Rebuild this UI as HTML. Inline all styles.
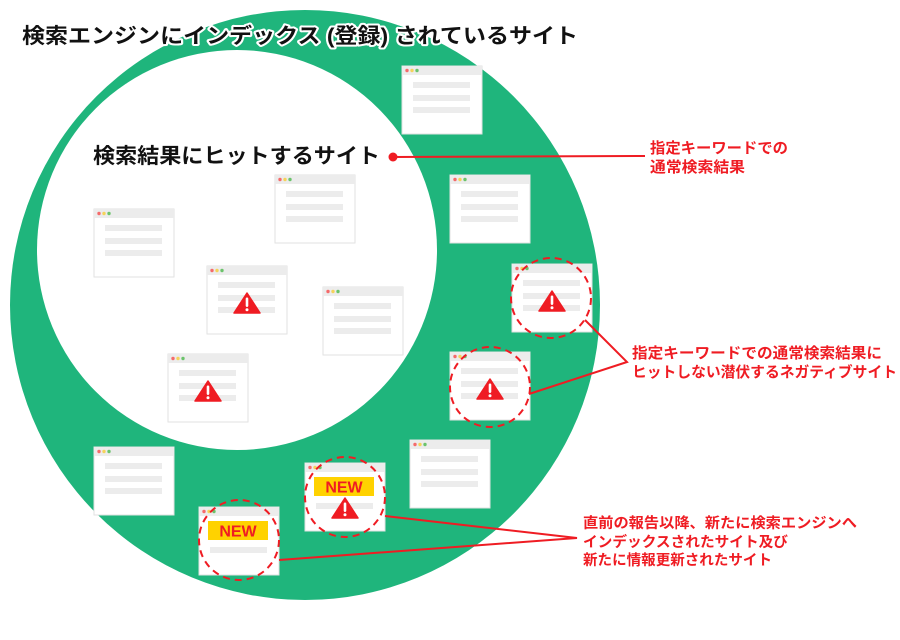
<!DOCTYPE html>
<html><head><meta charset="utf-8"><style>
html,body{margin:0;padding:0;background:#fff;}
svg{display:block;}
text{font-family:"Liberation Sans","Noto Sans CJK JP",sans-serif;font-weight:bold;}
</style></head><body>
<svg width="900" height="640" viewBox="0 0 900 640" xmlns="http://www.w3.org/2000/svg">
<defs>
<g id="win">
  <rect x="0" y="0" width="80" height="68" fill="#fff" stroke="#e2e2e2" stroke-width="1"/>
  <rect x="0" y="0" width="80" height="9" fill="#ececec"/>
  <circle cx="5" cy="4.5" r="1.7" fill="#f56b6b"/>
  <circle cx="10" cy="4.5" r="1.7" fill="#f5d35b"/>
  <circle cx="15" cy="4.5" r="1.7" fill="#6cc36c"/>
  <rect x="11" y="16" width="57" height="6" fill="#ececec"/>
  <rect x="11" y="29" width="57" height="6" fill="#ececec"/>
  <rect x="11" y="41" width="57" height="6" fill="#ececec"/>
</g>
<g id="warn">
  <path d="M40 27 L53 47 L27 47 Z" fill="#ef1c23" stroke="#ef1c23" stroke-width="1.5" stroke-linejoin="round"/>
  <rect x="38.7" y="31.5" width="2.6" height="9.5" rx="1.2" fill="#fff"/>
  <circle cx="40" cy="43.8" r="1.5" fill="#fff"/>
</g>
<g id="winnew">
  <rect x="0" y="0" width="80" height="68" fill="#fff" stroke="#e2e2e2" stroke-width="1"/>
  <rect x="0" y="0" width="80" height="9" fill="#ececec"/>
  <circle cx="5" cy="4.5" r="1.7" fill="#f56b6b"/>
  <circle cx="10" cy="4.5" r="1.7" fill="#f5d35b"/>
  <circle cx="15" cy="4.5" r="1.7" fill="#6cc36c"/>
  <rect x="9" y="14" width="60" height="19" fill="#ffd200"/>
  <text x="39" y="29.5" font-size="16" fill="#ef1c23" text-anchor="middle">NEW</text>
  <rect x="11" y="40" width="57" height="6" fill="#ececec"/>
</g>
</defs>

<circle cx="305" cy="305" r="295" fill="#1fb57c"/>
<circle cx="237" cy="250" r="200" fill="#fff"/>

<text x="22" y="43" font-size="21" textLength="556" lengthAdjust="spacingAndGlyphs" fill="#111" stroke="#fff" stroke-width="4" paint-order="stroke" stroke-linejoin="round">検索エンジンにインデックス (登録) されているサイト</text>
<text x="93" y="163" font-size="21" textLength="287" lengthAdjust="spacingAndGlyphs" fill="#111">検索結果にヒットするサイト</text>

<use href="#win" x="402" y="66"/>
<use href="#win" x="450" y="175"/>
<use href="#win" x="512" y="264"/>
<use href="#warn" x="512" y="264"/>
<use href="#win" x="450" y="352"/>
<use href="#warn" x="450" y="352"/>
<use href="#win" x="410" y="440"/>
<use href="#winnew" x="305" y="463"/>
<use href="#warn" x="305" y="471"/>
<use href="#winnew" x="199" y="507"/>
<use href="#win" x="94" y="447"/>
<use href="#win" x="94" y="209"/>
<use href="#win" x="275" y="175"/>
<use href="#win" x="207" y="266"/>
<use href="#warn" x="207" y="266"/>
<use href="#win" x="323" y="287"/>
<use href="#win" x="168" y="354"/>
<use href="#warn" x="168" y="354"/>

<g fill="none" stroke="#ef1c23" stroke-width="2" stroke-dasharray="7,5">
  <circle cx="551" cy="298" r="40"/>
  <circle cx="490" cy="387" r="40"/>
  <circle cx="345" cy="497" r="40"/>
  <circle cx="239" cy="540" r="40"/>
</g>

<g stroke="#ef1c23" stroke-width="2" fill="none">
  <line x1="393" y1="157" x2="645" y2="156"/>
  <polyline points="585,320 627,362 529,394"/>
  <polyline points="385,516 577,538 279,560"/>
</g>
<circle cx="393" cy="157" r="4.5" fill="#ef1c23"/>

<g fill="#ef1c23" lengthAdjust="spacingAndGlyphs">
  <text x="650" y="153" font-size="15" textLength="138" lengthAdjust="spacingAndGlyphs">指定キーワードでの</text>
  <text x="650" y="172" font-size="15" textLength="95" lengthAdjust="spacingAndGlyphs">通常検索結果</text>
  <text x="632" y="358" font-size="15" textLength="250" lengthAdjust="spacingAndGlyphs">指定キーワードでの通常検索結果に</text>
  <text x="632" y="377" font-size="15" textLength="265" lengthAdjust="spacingAndGlyphs">ヒットしない潜伏するネガティブサイト</text>
  <text x="583" y="528" font-size="14.5" textLength="274" lengthAdjust="spacingAndGlyphs">直前の報告以降、新たに検索エンジンへ</text>
  <text x="583" y="547" font-size="14.5" textLength="205" lengthAdjust="spacingAndGlyphs">インデックスされたサイト及び</text>
  <text x="583" y="565" font-size="14.5" textLength="189" lengthAdjust="spacingAndGlyphs">新たに情報更新されたサイト</text>
</g>
</svg>
</body></html>
